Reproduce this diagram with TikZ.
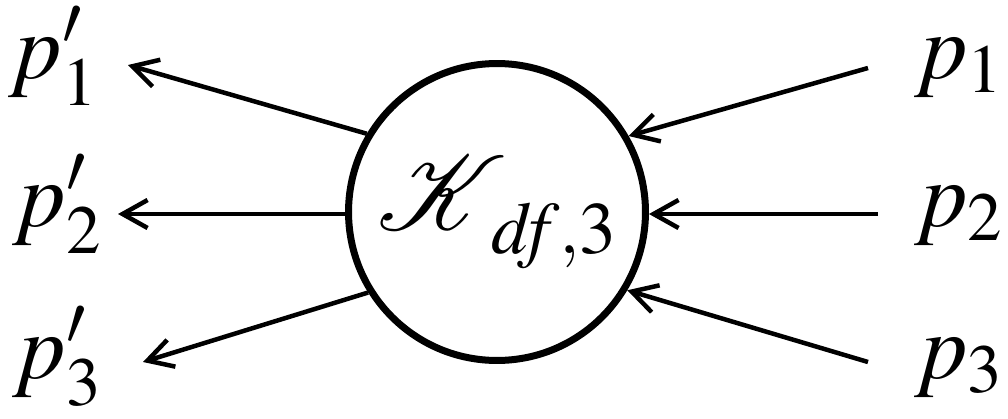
\documentclass[tikz,border=0pt]{standalone}
\usepackage{mathptmx}
\usepackage{mathrsfs}
\DeclareFontFamily{U}{rsfs}{\skewchar\font127 }
\DeclareFontShape{U}{rsfs}{m}{n}{<-> rsfs10}{}
\usetikzlibrary{arrows.meta}
\newcommand{\kdf}{$\mathscr{K}$\hspace{-0.3cm}\raisebox{-0.48cm}{\fontsize{42}{50}\selectfont$\mathit{df}{,}3$}}

\begin{document}
\begin{tikzpicture}[
  x=0.02cm, y=-0.02cm,
  vertex/.style={circle, draw, line width=0.14cm, fill=white,
    minimum size=5.94cm, inner sep=0pt, font=\fontsize{60}{70}\selectfont},
  mom/.style={inner sep=0pt, font=\fontsize{53}{60}\selectfont},
  arr/.style={-{Straight Barb[length=5mm, width=5.6mm]}, line width=0.09cm}
]
\useasboundingbox (0,0) rectangle (1008,419);
\node[vertex] (K) at (497,212) {\kdf};
% outgoing momenta
\node[mom, anchor=base east] (p1o) at (98,78) {$p'_1$};
\node[mom, anchor=base east] (p2o) at (102,226) {$p'_2$};
\node[mom, anchor=base east] (p3o) at (102,378) {$p'_3$};
% incoming momenta
\node[mom, anchor=base west] (p1i) at (914,78) {$p_1$};
\node[mom, anchor=base west] (p2i) at (914,226) {$p_2$};
\node[mom, anchor=base west] (p3i) at (914,378) {$p_3$};
\coordinate (t1o) at (128,65);
\coordinate (t2o) at (118,214);
\coordinate (t3o) at (143,362);
\coordinate (s1i) at (868,68);
\coordinate (s2i) at (878,214);
\coordinate (s3i) at (868,362);
\draw[arr] (K.149) -- (t1o);
\draw[arr] (K.west |- t2o) -- (t2o);
\draw[arr] (K.212) -- (t3o);
\draw[arr] (s1i) -- (K.30);
\draw[arr] (s2i) -- (K.east |- s2i);
\draw[arr] (s3i) -- (K.-31);
\end{tikzpicture}
\end{document}
